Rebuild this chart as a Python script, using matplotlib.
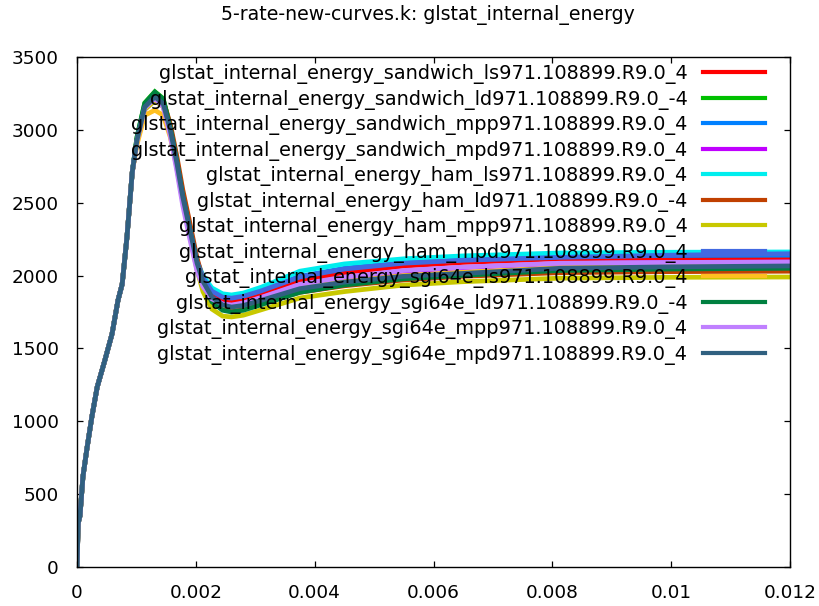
import matplotlib
matplotlib.use("Agg")
import matplotlib.pyplot as plt
from matplotlib.ticker import FuncFormatter

plt.rcParams["font.family"] = ["DejaVu Sans"]

title = "5-rate-new-curves.k: glstat_internal_energy"

# Time samples (s): the shared loading ramp, then the part where the runs diverge
t_rise = [0, 0.00002, 0.00005, 0.0001, 0.00017, 0.00025, 0.00034, 0.00047,
          0.00059, 0.00069, 0.00076, 0.00084, 0.00093]
t_tail = [0.00101, 0.00114, 0.00131, 0.00145, 0.00157, 0.00168, 0.00178,
          0.0019, 0.00202, 0.00212, 0.00227, 0.00245, 0.0026, 0.0028, 0.0031,
          0.00375, 0.0045, 0.0055, 0.0065, 0.00813, 0.01, 0.012]

# Internal energy during the ramp is the same for every run
e_rise = [0, 300, 350, 620, 820, 1030, 1235, 1420, 1600, 1830, 1940, 2260, 2710]

labels = [
    "glstat_internal_energy_sandwich_ls971.108899.R9.0_4",
    "glstat_internal_energy_sandwich_ld971.108899.R9.0_-4",
    "glstat_internal_energy_sandwich_mpp971.108899.R9.0_4",
    "glstat_internal_energy_sandwich_mpd971.108899.R9.0_4",
    "glstat_internal_energy_ham_ls971.108899.R9.0_4",
    "glstat_internal_energy_ham_ld971.108899.R9.0_-4",
    "glstat_internal_energy_ham_mpp971.108899.R9.0_4",
    "glstat_internal_energy_ham_mpd971.108899.R9.0_4",
    "glstat_internal_energy_sgi64e_ls971.108899.R9.0_4",
    "glstat_internal_energy_sgi64e_ld971.108899.R9.0_-4",
    "glstat_internal_energy_sgi64e_mpp971.108899.R9.0_4",
    "glstat_internal_energy_sgi64e_mpd971.108899.R9.0_4",
]

e_sandwich_ls = [2930, 3160, 3235, 3190, 3010, 2785, 2550, 2325, 2100, 1985, 1885,
                 1832, 1820, 1832, 1868, 1965, 2020, 2065, 2090, 2115, 2120, 2121]
e_sandwich_ld = [2950, 3185, 3262, 3215, 3020, 2790, 2550, 2320, 2090, 1950, 1830,
                 1770, 1760, 1775, 1815, 1900, 1950, 1995, 2020, 2045, 2055, 2058]
e_sandwich_mpp = [2930, 3160, 3230, 3185, 3005, 2780, 2545, 2320, 2095, 1990, 1900,
                  1858, 1850, 1862, 1900, 1995, 2050, 2090, 2110, 2132, 2138, 2140]
e_sandwich_mpd = [2920, 3140, 3210, 3165, 2985, 2755, 2520, 2290, 2070, 1950, 1850,
                  1805, 1795, 1808, 1848, 1935, 1985, 2030, 2055, 2082, 2090, 2093]
e_ham_ls = [2930, 3160, 3230, 3185, 3005, 2780, 2545, 2320, 2100, 2000, 1915,
            1875, 1867, 1880, 1920, 2030, 2080, 2115, 2135, 2155, 2160, 2162]
e_ham_ld = [2935, 3165, 3235, 3200, 3040, 2820, 2590, 2360, 2120, 1975, 1850,
            1780, 1765, 1775, 1808, 1885, 1930, 1970, 1995, 2020, 2027, 2030]
e_ham_mpp = [2920, 3140, 3200, 3160, 2980, 2750, 2510, 2270, 2040, 1890, 1770,
             1722, 1716, 1728, 1765, 1846, 1890, 1935, 1958, 1982, 1988, 1990]
e_ham_mpd = [2930, 3160, 3228, 3183, 3003, 2778, 2543, 2318, 2093, 1985, 1893,
             1852, 1845, 1858, 1895, 1990, 2045, 2085, 2105, 2125, 2140, 2150]
e_sgi64e_ls = [2900, 3100, 3135, 3100, 2950, 2740, 2510, 2290, 2070, 1950, 1845,
               1795, 1785, 1797, 1833, 1915, 1960, 2000, 2022, 2055, 2065, 2070]
e_sgi64e_ld = [2950, 3180, 3258, 3210, 3015, 2785, 2545, 2315, 2085, 1945, 1820,
               1762, 1750, 1762, 1800, 1885, 1935, 1978, 2002, 2035, 2045, 2050]
e_sgi64e_mpp = [2925, 3150, 3215, 3160, 2960, 2720, 2480, 2250, 2030, 1925, 1840,
                1805, 1798, 1812, 1850, 1940, 1990, 2035, 2058, 2085, 2090, 2093]
e_sgi64e_mpd = [2930, 3157, 3226, 3180, 2999, 2773, 2539, 2313, 2086, 1960, 1853,
                1798, 1784, 1795, 1830, 1910, 1955, 1995, 2015, 2050, 2060, 2066]

tails = [e_sandwich_ls, e_sandwich_ld, e_sandwich_mpp, e_sandwich_mpd,
         e_ham_ls, e_ham_ld, e_ham_mpp, e_ham_mpd,
         e_sgi64e_ls, e_sgi64e_ld, e_sgi64e_mpp, e_sgi64e_mpd]

colors = ["#ff0000", "#00c000", "#0080ff", "#c000ff", "#00eeee", "#c04000",
          "#c8c800", "#4169e1", "#ffc020", "#008040", "#c080ff", "#306080"]

x_ticks = [0, 0.002, 0.004, 0.006, 0.008, 0.01, 0.012]
y_ticks = [0, 500, 1000, 1500, 2000, 2500, 3000, 3500]

fig = plt.figure(figsize=(8.19, 6.06), dpi=100)
ax = fig.add_axes([77 / 819, 39 / 606, 713 / 819, 510 / 606])

t_all = t_rise + t_tail
for lab, tail, col in zip(labels, tails, colors):
    ax.plot(t_all, e_rise + tail, color=col, lw=3.4, label=lab,
            solid_joinstyle="miter")

ax.set_xlim(0, 0.012)
ax.set_ylim(0, 3500)
ax.set_xticks(x_ticks)
ax.set_yticks(y_ticks)
ax.xaxis.set_major_formatter(FuncFormatter(lambda v, p: f"{v:g}"))
ax.yaxis.set_major_formatter(FuncFormatter(lambda v, p: f"{v:g}"))
ax.tick_params(direction="in", length=4.5, width=0.9, top=True, right=True,
               labelsize=13.3, colors="black")
ax.tick_params(axis="x", pad=12)
ax.tick_params(axis="y", pad=13)
for sp in ax.spines.values():
    sp.set_linewidth(1.0)
    sp.set_color("black")

fig.text(428 / 819, 1 - 15 / 606, title, ha="center", va="center",
         fontsize=13.6)

leg = ax.legend(loc="upper right", bbox_to_anchor=(0.965, 0.986),
                markerfirst=False, frameon=False, fontsize=13.9,
                handlelength=3.2, handletextpad=0.82, labelspacing=0.285,
                borderpad=0, borderaxespad=0)
for line in leg.get_lines():
    line.set_linewidth(3.0)

fig.savefig("out.png", dpi=100)
